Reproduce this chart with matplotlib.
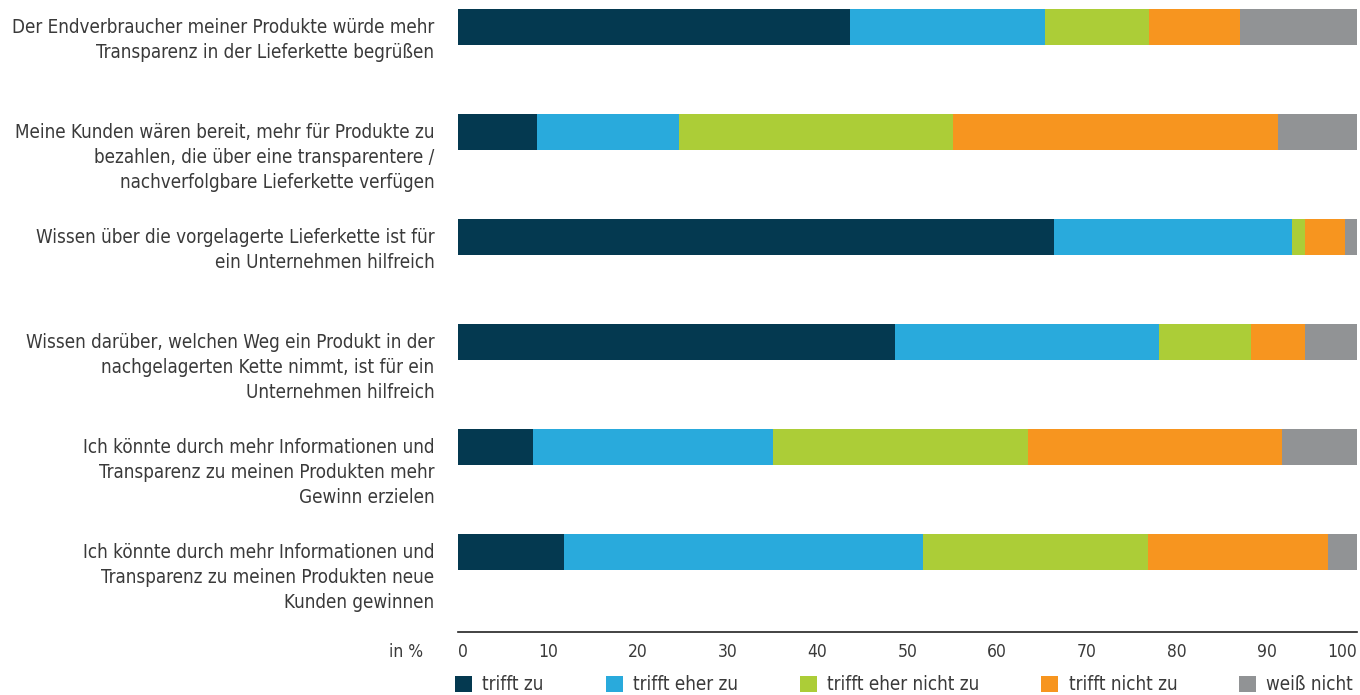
import matplotlib
matplotlib.use("Agg")
import matplotlib.pyplot as plt
from matplotlib.patches import Patch
import numpy as np

categories = [
    "Der Endverbraucher meiner Produkte würde mehr\nTransparenz in der Lieferkette begrüßen",
    "Meine Kunden wären bereit, mehr für Produkte zu\nbezahlen, die über eine transparentere /\nnachverfolgbare Lieferkette verfügen",
    "Wissen über die vorgelagerte Lieferkette ist für\nein Unternehmen hilfreich",
    "Wissen darüber, welchen Weg ein Produkt in der\nnachgelagerten Kette nimmt, ist für ein\nUnternehmen hilfreich",
    "Ich könnte durch mehr Informationen und\nTransparenz zu meinen Produkten mehr\nGewinn erzielen",
    "Ich könnte durch mehr Informationen und\nTransparenz zu meinen Produkten neue\nKunden gewinnen",
]
series_names = ["trifft zu", "trifft eher zu", "trifft eher nicht zu", "trifft nicht zu", "weiß nicht"]
trifft_zu = [43.6, 8.8, 66.3, 48.6, 8.3, 11.8]
trifft_eher_zu = [21.7, 15.8, 26.5, 29.4, 26.7, 39.9]
trifft_eher_nicht_zu = [11.6, 30.5, 1.4, 10.2, 28.4, 25.1]
trifft_nicht_zu = [10.1, 36.1, 4.5, 6.0, 28.3, 20.0]
weiss_nicht = [13.0, 8.8, 1.3, 5.8, 8.3, 3.2]
xticks = [0, 10, 20, 30, 40, 50, 60, 70, 80, 90, 100]

colors = ["#043950", "#29aadc", "#accd37", "#f7951f", "#919395"]
text_color = "#3a3a3a"
plt.rcParams['font.family'] = ['DejaVu Sans']

fig = plt.figure(figsize=(13.6, 6.95), dpi=100)
ax = fig.add_axes([458/1360, 1-632/695, (1356.7-458)/1360, 632/695])

series = [trifft_zu, trifft_eher_zu, trifft_eher_nicht_zu, trifft_nicht_zu, weiss_nicht]
y = np.arange(len(categories))
left = np.zeros(len(categories))
for vals, c in zip(series, colors):
    ax.barh(y, vals, left=left, height=0.343, color=c, linewidth=0)
    left += np.array(vals)

ax.set_xlim(0, 100)
ax.set_ylim(5.762, -0.257)
for s in ["top", "right", "left"]:
    ax.spines[s].set_visible(False)
ax.spines["bottom"].set_color("#222222")
ax.spines["bottom"].set_linewidth(1.2)
ax.set_yticks([])
ax.set_xticks(xticks)
ax.tick_params(axis="x", length=0, pad=8, labelsize=12.5, labelcolor=text_color)
ax.set_xticklabels([str(v) for v in xticks], fontstretch="condensed")
lbls = ax.get_xticklabels()
lbls[0].set_ha("left")
lbls[-1].set_ha("right")

for yi, cat in zip(y, categories):
    ax.annotate(cat, xy=(0, yi), xycoords="data", xytext=(-17, 6.5),
                textcoords="offset points", ha="right", va="top",
                fontsize=13.5, color=text_color, linespacing=1.4,
                fontstretch="condensed")

fig.text(423/1360, 1-652/695, "in %", ha="right", va="center",
         fontsize=12.5, color=text_color, fontstretch="condensed")

handles = [Patch(facecolor=c, edgecolor="none") for c in colors]
leg = fig.legend(handles, series_names, loc="center left",
                 bbox_to_anchor=(455/1360, 1-685/695), ncol=5, frameon=False,
                 handlelength=0.9, handleheight=0.9,
                 handletextpad=0.55, columnspacing=3.31, borderpad=0,
                 borderaxespad=0, prop={"size": 13.5, "stretch": "condensed"})
for t in leg.get_texts():
    t.set_color(text_color)

fig.savefig("out.png", dpi=100, facecolor="white")
